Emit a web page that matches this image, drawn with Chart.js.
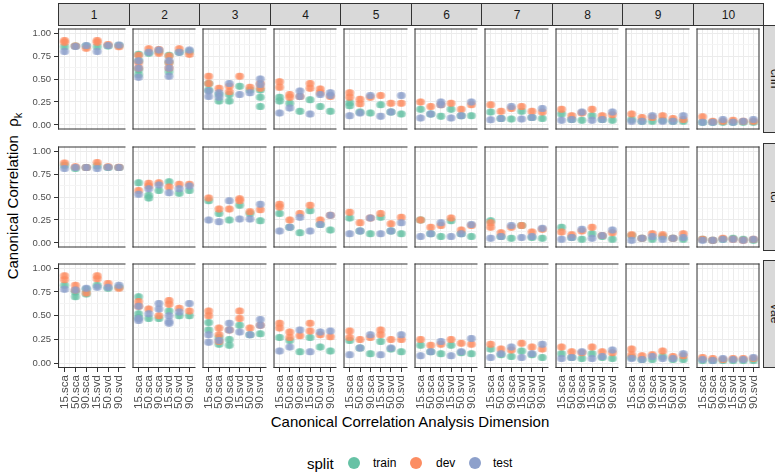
<!DOCTYPE html>
<html>
<head>
<meta charset="utf-8">
<script src="https://cdn.jsdelivr.net/npm/chart.js@4/dist/chart.umd.min.js"></script>
<style>
  body { margin: 0; width: 775px; height: 476px; overflow: hidden; position: relative; background: #fff;
         font-family: "Liberation Sans", Arial, sans-serif; }
  .abs { position: absolute; }
  .strip { position: absolute; box-sizing: border-box; background: #d9d9d9; border: 1px solid #333;
           color: #1a1a1a; font-size: 12px; display: flex; align-items: center; justify-content: center; }
  .side { writing-mode: vertical-rl; }
  .ytitle { position: absolute; left: 14px; top: 196px; transform: translate(-50%, -50%) rotate(-90deg);
            white-space: nowrap; font-size: 15px; color: #000; }
  .xtitle { position: absolute; left: 410px; top: 421px; transform: translate(-50%, -50%);
            white-space: nowrap; font-size: 15px; color: #000; }
  .legend { position: absolute; top: 463px; transform: translateY(-50%); white-space: nowrap; }
  .dot { position: absolute; top: 457px; width: 12px; height: 12px; border-radius: 50%; }
</style>
</head>
<body>
<div class="ytitle">Canonical Correlation&nbsp;&nbsp;ρ<sub style="font-size:11px">k</sub></div>
<div class="xtitle">Canonical Correlation Analysis Dimension</div>
<div class="legend" style="left:307px;font-size:15px">split</div>
<div class="dot" style="left:348px;background:#66C2A5"></div>
<div class="legend" style="left:373px;font-size:12px">train</div>
<div class="dot" style="left:410px;background:#FC8D62"></div>
<div class="legend" style="left:436px;font-size:12px">dev</div>
<div class="dot" style="left:469px;background:#8DA0CB"></div>
<div class="legend" style="left:493px;font-size:12px">test</div>
<script>
"use strict";

const dims = ["1", "2", "3", "4", "5", "6", "7", "8", "9", "10"];
const methods = ["15.sca", "50.sca", "90.sca", "15.svd", "50.svd", "90.svd"];
const models = ["cnn", "tcl", "vae"];
const splits = ["train", "dev", "test"];
const yMajor = [0, 0.25, 0.5, 0.75, 1];
const yMinor = [0.125, 0.375, 0.625, 0.875];

// one row per dimension, one entry per method; an entry can hold several runs
const cnnTrain = [
  [0.85, 0.86, 0.86, 0.85, 0.86, 0.865],
  [[0.77, 0.7, 0.6, 0.55], 0.78, 0.8, [0.76, 0.68, 0.58], 0.79, 0.8],
  [[0.45, 0.38], [0.33, 0.26], [0.33, 0.26], 0.42, 0.38, [0.38, 0.3, 0.2]],
  [[0.3, 0.26], 0.235, 0.15, 0.275, 0.2, 0.15],
  [[0.24, 0.21], 0.14, 0.13, 0.22, 0.14, 0.12],
  [0.17, 0.12, 0.095, 0.17, 0.1, 0.1],
  [0.14, 0.07, 0.065, 0.15, 0.08, 0.07],
  [0.12, 0.06, 0.05, 0.1, 0.06, 0.05],
  [0.06, 0.04, 0.04, 0.05, 0.04, 0.04],
  [0.03, 0.03, 0.03, 0.03, 0.03, 0.03],
];
const cnnDev = [
  [[0.9, 0.92], 0.86, 0.835, [0.9, 0.92], 0.875, 0.85],
  [[0.76, 0.68, 0.62], 0.83, [0.82, 0.78], [0.75, 0.68, 0.62], 0.83, 0.77],
  [[0.53, 0.45], 0.4, [0.42, 0.36], 0.53, 0.41, [0.45, 0.4]],
  [[0.47, 0.41], [0.33, 0.3], 0.31, [0.45, 0.4], [0.39, 0.35], 0.31],
  [[0.35, 0.3], [0.28, 0.23], 0.3, 0.32, 0.235, 0.235],
  [0.25, 0.2, 0.22, 0.235, 0.17, 0.22],
  [0.22, 0.15, 0.18, 0.2, 0.15, 0.14],
  [0.17, 0.1, 0.13, 0.17, 0.1, 0.11],
  [0.12, 0.08, 0.08, 0.1, 0.07, 0.06],
  [0.09, 0.04, 0.04, 0.05, 0.04, 0.04],
];
const cnnTest = [
  [0.8, 0.855, 0.865, 0.8, 0.865, 0.87],
  [[0.7, 0.62, 0.52], 0.79, 0.815, [0.7, 0.62, 0.53], 0.79, 0.815],
  [[0.37, 0.31], [0.35, 0.3], 0.45, 0.33, 0.35, [0.5, 0.44]],
  [0.13, 0.185, [0.37, 0.31], 0.12, 0.33, [0.35, 0.32]],
  [0.1, 0.13, 0.32, 0.095, 0.14, 0.32],
  [0.075, 0.12, [0.25, 0.22], 0.075, 0.1, 0.25],
  [0.057, 0.07, 0.2, 0.065, 0.08, 0.18],
  [0.05, 0.06, 0.14, 0.05, 0.06, 0.14],
  [0.04, 0.04, 0.1, 0.04, 0.04, 0.1],
  [0.03, 0.03, 0.06, 0.03, 0.04, 0.06],
];

const tclTrain = [
  [0.845, 0.81, 0.82, 0.84, 0.82, 0.82],
  [0.655, [0.52, 0.49], 0.57, 0.665, 0.54, 0.57],
  [0.46, 0.32, 0.25, 0.41, 0.32, 0.24],
  [0.32, 0.17, 0.11, 0.35, 0.2, 0.14],
  [0.27, 0.13, 0.1, 0.28, 0.13, 0.1],
  [0.25, 0.1, 0.07, 0.24, 0.1, 0.07],
  [0.24, 0.07, 0.05, 0.19, 0.06, 0.05],
  [0.17, 0.06, 0.04, 0.1, 0.07, 0.04],
  [0.08, 0.05, 0.04, 0.07, 0.05, 0.04],
  [0.04, 0.03, 0.04, 0.05, 0.04, 0.03],
];
const tclDev = [
  [0.87, 0.83, 0.82, 0.875, 0.83, 0.825],
  [0.57, [0.65, 0.62], 0.655, 0.61, 0.64, 0.64],
  [0.49, 0.37, 0.37, [0.48, 0.46], 0.34, 0.36],
  [[0.42, 0.39], 0.25, 0.32, 0.41, 0.25, 0.3],
  [0.335, 0.22, 0.27, 0.32, 0.21, 0.28],
  [0.25, 0.17, 0.19, 0.27, 0.14, 0.19],
  [[0.22, 0.17], 0.11, 0.17, 0.19, 0.12, 0.15],
  [0.12, 0.09, 0.13, 0.17, 0.08, 0.11],
  [0.09, 0.05, 0.1, 0.09, 0.05, 0.1],
  [0.04, 0.03, 0.05, 0.04, 0.03, 0.04],
];
const tclTest = [
  [0.81, 0.82, 0.82, 0.81, 0.825, 0.82],
  [0.53, 0.59, 0.63, 0.545, 0.59, 0.62],
  [0.25, 0.23, 0.46, 0.26, 0.26, 0.42],
  [0.13, 0.17, 0.28, 0.13, 0.2, 0.3],
  [0.1, 0.13, 0.27, 0.1, 0.13, 0.22],
  [0.07, 0.1, 0.22, 0.07, 0.1, 0.2],
  [0.05, 0.07, 0.19, 0.06, 0.07, 0.16],
  [0.04, 0.06, 0.15, 0.05, 0.08, 0.14],
  [0.03, 0.05, 0.07, 0.04, 0.05, 0.06],
  [0.03, 0.03, 0.04, 0.04, 0.03, 0.04],
];

const vaeTrain = [
  [0.82, [0.75, 0.7], [0.78, 0.73], 0.82, 0.79, 0.8],
  [[0.7, 0.52, 0.48], 0.47, 0.47, 0.55, 0.5, 0.5],
  [[0.43, 0.35], [0.27, 0.2], [0.25, 0.19], 0.4, 0.3, 0.31],
  [0.27, 0.24, 0.12, 0.27, 0.17, 0.13],
  [0.24, 0.16, 0.1, 0.23, 0.15, 0.12],
  [0.19, 0.12, 0.1, 0.19, 0.11, 0.1],
  [0.15, 0.09, 0.07, 0.13, 0.09, 0.06],
  [0.1, 0.06, 0.05, 0.1, 0.06, 0.05],
  [0.06, 0.04, 0.04, 0.07, 0.04, 0.04],
  [0.03, 0.03, 0.03, 0.03, 0.03, 0.03],
];
const vaeDev = [
  [[0.92, 0.88], [0.82, 0.77], 0.74, [0.92, 0.89], 0.84, 0.79],
  [[0.65, 0.6], 0.57, 0.5, [0.66, 0.62], 0.58, 0.55],
  [[0.55, 0.5], [0.37, 0.3, 0.23], 0.35, [0.55, 0.47], 0.37, 0.4],
  [[0.42, 0.37], [0.33, 0.27], 0.29, [0.42, 0.34], 0.3, 0.28],
  [[0.34, 0.27], 0.25, 0.27, [0.35, 0.3], 0.25, 0.25],
  [0.25, 0.19, 0.2, 0.25, 0.21, 0.2],
  [0.2, 0.15, 0.14, 0.21, 0.17, 0.15],
  [0.17, 0.12, 0.11, 0.17, 0.12, 0.11],
  [[0.15, 0.09], 0.08, 0.09, 0.13, 0.07, 0.08],
  [0.06, 0.05, 0.04, 0.05, 0.05, 0.05],
];
const vaeTest = [
  [0.78, 0.77, 0.79, 0.8, 0.8, 0.82],
  [[0.6, 0.47, 0.45], 0.52, [0.63, 0.57], [0.5, 0.44, 0.42], 0.54, 0.63],
  [[0.3, 0.22], 0.24, [0.42, 0.35], 0.33, 0.3, [0.46, 0.4]],
  [0.13, 0.17, 0.35, 0.12, 0.33, 0.34],
  [0.09, 0.16, 0.3, 0.09, 0.16, 0.3],
  [0.08, 0.12, 0.23, 0.08, 0.12, 0.26],
  [0.06, 0.1, 0.17, 0.06, 0.1, 0.2],
  [0.05, 0.06, 0.12, 0.05, 0.07, 0.14],
  [0.05, 0.04, 0.07, 0.05, 0.05, 0.1],
  [0.04, 0.03, 0.05, 0.04, 0.04, 0.06],
];

const values = {
  cnn: [cnnTrain, cnnDev, cnnTest],
  tcl: [tclTrain, tclDev, tclTest],
  vae: [vaeTrain, vaeDev, vaeTest],
};

const fills = ["rgba(102,194,165,0.42)", "rgba(252,141,98,0.42)", "rgba(141,160,203,0.42)"];
const jitterX = [-0.13, -0.04, 0.04, 0.13];
const xGrid = [-0.5, 0, 0.5, 1, 1.5, 2, 2.5, 3, 3.5, 4, 4.5, 5, 5.5];
const yGrid = [...yMajor, ...yMinor].sort((a, b) => a - b);

// layout (px)
const colX = (i) => Math.round(58 + i * 70.5);
const rowTop = [25, 143, 260];
const panelH = 108;
const yAxisW = 58;
const xAxisH = 46;

Chart.defaults.font.family = '"Liberation Sans", Arial, sans-serif';

const toPoints = (row) => {
  const pts = [];
  row.forEach((entry, i) => {
    [].concat(entry).forEach((v) => jitterX.forEach((dx) => pts.push({ x: i + dx, y: v })));
  });
  return pts;
};

const isMajorX = (v) => Number.isInteger(v);
const isMajorY = (v) => yMajor.includes(v);

const panelBorder = {
  id: "panelBorder",
  afterDraw(chart, args, opts) {
    const { ctx, chartArea: a } = chart;
    ctx.save();
    ctx.strokeStyle = "#333";
    ctx.lineWidth = 1;
    ctx.beginPath();
    ctx.moveTo(a.left + 0.5, a.top);
    ctx.lineTo(a.left + 0.5, a.bottom);
    ctx.moveTo(a.left, a.top + 0.5);
    ctx.lineTo(a.right, a.top + 0.5);
    ctx.moveTo(a.left, a.bottom - 0.5);
    ctx.lineTo(a.right, a.bottom - 0.5);
    if (opts.right) {
      ctx.moveTo(a.right - 0.5, a.top);
      ctx.lineTo(a.right - 0.5, a.bottom);
    }
    ctx.stroke();
    ctx.restore();
  },
};

// top strips
dims.forEach((d, c) => {
  const s = document.createElement("div");
  s.className = "strip";
  s.style.left = colX(c) + "px";
  s.style.top = "3px";
  s.style.width = colX(c + 1) - colX(c) + 1 + "px";
  s.style.height = "23px";
  s.textContent = d;
  document.body.appendChild(s);
});

// right strips (cut off by the page edge, as in the original)
models.forEach((m, r) => {
  const s = document.createElement("div");
  s.className = "strip side";
  s.style.left = colX(dims.length) + "px";
  s.style.top = rowTop[r] + "px";
  s.style.width = "23px";
  s.style.height = panelH + "px";
  s.textContent = m;
  document.body.appendChild(s);
});

models.forEach((m, r) => {
  dims.forEach((d, c) => {
    const first = c === 0;
    const last = r === models.length - 1;
    const left = colX(c);
    const w = colX(c + 1) - left;
    const cv = document.createElement("canvas");
    cv.className = "abs";
    cv.width = w + (first ? yAxisW : 0);
    cv.height = panelH + (last ? xAxisH : 0);
    cv.style.left = (first ? left - yAxisW : left) + "px";
    cv.style.top = rowTop[r] + "px";
    document.body.appendChild(cv);

    new Chart(cv, {
      type: "scatter",
      data: {
        datasets: splits.map((s, k) => ({
          label: s,
          data: toPoints(values[m][k][c]),
          backgroundColor: fills[k],
          borderWidth: 0,
          pointRadius: 3.5,
          pointHoverRadius: 3.5,
          order: 2 - k,
        })),
      },
      options: {
        responsive: false,
        animation: false,
        events: [],
        layout: { padding: 0 },
        plugins: { legend: { display: false }, tooltip: { enabled: false }, panelBorder: { right: c === dims.length - 1 } },
        scales: {
          x: {
            type: "linear",
            min: -0.6,
            max: 5.6,
            afterBuildTicks: (s) => { s.ticks = xGrid.map((v) => ({ value: v })); },
            afterFit: (s) => { s.height = last ? xAxisH : 0; s.paddingLeft = 0; s.paddingRight = 0; },
            border: { display: false },
            grid: {
              color: (ctx) => (isMajorX(ctx.tick.value) ? "#EBEBEB" : "#F4F4F4"),
              lineWidth: 1,
              drawTicks: last,
              tickLength: 4,
              tickColor: (ctx) => (isMajorX(ctx.tick.value) ? "#333" : "rgba(0,0,0,0)"),
            },
            ticks: {
              display: last,
              autoSkip: false,
              minRotation: 90,
              maxRotation: 90,
              padding: 3,
              color: "#4D4D4D",
              font: { size: 11.5 },
              callback: (v) => (isMajorX(v) ? methods[v] : ""),
            },
          },
          y: {
            min: -0.05,
            max: 1.05,
            afterBuildTicks: (s) => { s.ticks = yGrid.map((v) => ({ value: v })); },
            afterFit: (s) => { s.width = first ? yAxisW : 0; s.paddingTop = 0; s.paddingBottom = 0; },
            border: { display: false },
            grid: {
              color: (ctx) => (isMajorY(ctx.tick.value) ? "#EBEBEB" : "#F4F4F4"),
              lineWidth: 1,
              drawTicks: first,
              tickLength: 4,
              tickColor: (ctx) => (isMajorY(ctx.tick.value) ? "#333" : "rgba(0,0,0,0)"),
            },
            ticks: {
              display: first,
              autoSkip: false,
              padding: 3,
              color: "#4D4D4D",
              font: { size: 9.5 },
              callback: (v) => (isMajorY(v) ? v.toFixed(2) : ""),
            },
          },
        },
      },
      plugins: [panelBorder],
    });
  });
});
</script>
</body>
</html>
